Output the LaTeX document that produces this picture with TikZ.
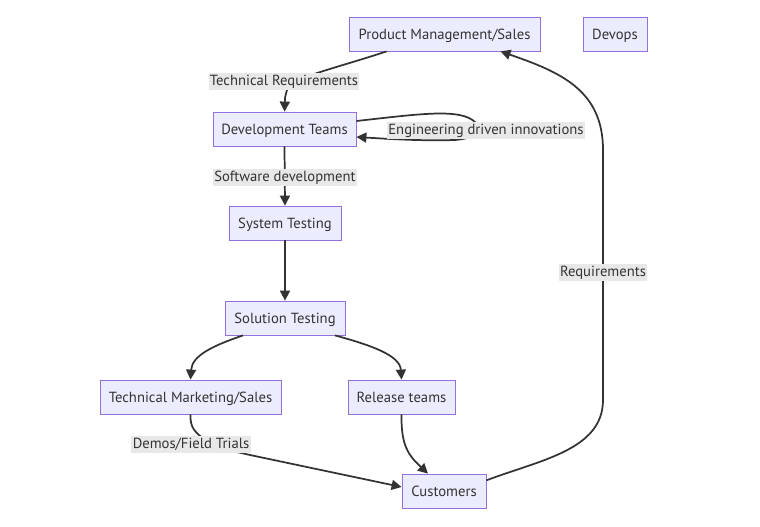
\documentclass[tikz,border=0pt]{standalone}
\usepackage{fontspec}
\setmainfont{PT Sans}
\usetikzlibrary{arrows.meta}
\definecolor{nodefill}{HTML}{ECECFF}
\definecolor{nodeline}{HTML}{9370DB}
\definecolor{edgecol}{HTML}{333333}
\definecolor{lblbg}{HTML}{E8E8E8}
\begin{document}
\begin{tikzpicture}[x=0.75pt,y=-0.75pt,
  box/.style={draw=nodeline,fill=nodefill,line width=0.6pt,inner sep=0pt,text height=7.7pt,text depth=0pt,font=\fontsize{11pt}{13pt}\selectfont,text=edgecol},
  lbl/.style={fill=lblbg,inner xsep=1pt,inner ysep=1pt,text height=8.6pt,text depth=2.6pt,font=\fontsize{11pt}{13pt}\selectfont,text=edgecol},
  edge/.style={draw=edgecol,line width=1.3pt,-{Triangle[length=7.5pt,width=7.5pt]}}]
\useasboundingbox[fill=white] (0,0) rectangle (760,527);
\node[box,minimum width=143.25pt,minimum height=25.5pt] (pm) at (444.5,34) {Product Management/Sales};
\node[box,minimum width=48pt,minimum height=25.5pt] (devops) at (615,34) {Devops};
\node[box,minimum width=107.25pt,minimum height=25.5pt] (dev) at (284.5,129) {Development Teams};
\node[box,minimum width=84pt,minimum height=25.5pt] (sys) at (285,223) {System Testing};
\node[box,minimum width=90pt,minimum height=25.5pt] (sol) at (285,318) {Solution Testing};
\node[box,minimum width=135.75pt,minimum height=25.5pt] (tms) at (190.5,397) {Technical Marketing/Sales};
\node[box,minimum width=80.25pt,minimum height=25.5pt] (rel) at (401.5,397) {Release teams};
\node[box,minimum width=63pt,minimum height=25.5pt] (cust) at (444,491) {Customers};
% edges
\coordinate (a1) at ([xshift=28.5pt]pm.south west);
\draw[edge] (a1) .. controls (330,70) and (290,78) .. (287,90) .. controls (285,97) .. (dev.north);
\coordinate (s1) at ([yshift=6pt]dev.east);
\coordinate (s2) at ([yshift=-6pt]dev.east);
\draw[edge] (s1) .. controls (420,114) and (460,108) .. (475,122)
  .. controls (482,130) and (478,138) .. (455,140) .. controls (420,141) and (390,139) .. (s2);
\draw[edge] (dev.south) -- (sys.north);
\draw[edge] (sys.south) -- (sol.north);
\draw[edge] ([xshift=-31.5pt]sol.south) .. controls (215,345) and (192,355) .. (tms.north);
\draw[edge] ([xshift=37.5pt]sol.south) .. controls (370,345) and (400,355) .. (rel.north);
\coordinate (c1) at ([yshift=3pt]cust.west);
\draw[edge] (tms.south) .. controls (190,428) and (195,432) .. (205,440) .. controls (215,447) .. (250,455) -- (c1);
\draw[edge] (rel.south) .. controls (401,445) and (408,455) .. ([xshift=-12pt]cust.north);
\coordinate (c2) at ([yshift=8pt]cust.east);
\coordinate (p1) at ([xshift=42pt]pm.south);
\draw[edge] (c2) .. controls (540,460) and (603,450) .. (603,400) -- (603,150)
  .. controls (603,90) and (560,72) .. (p1);
% labels
\node[lbl] (ltr) at (284,81.5) {Technical Requirements};
\node[lbl] (leng) at (486,130.5) {Engineering driven innovations};
\node[lbl] (lsw) at (285,177.5) {Software development};
\node[lbl] (ldemo) at (191,444.5) {Demos/Field Trials};
\node[lbl] (lreq) at (603,272.5) {Requirements};
\end{tikzpicture}
\end{document}
